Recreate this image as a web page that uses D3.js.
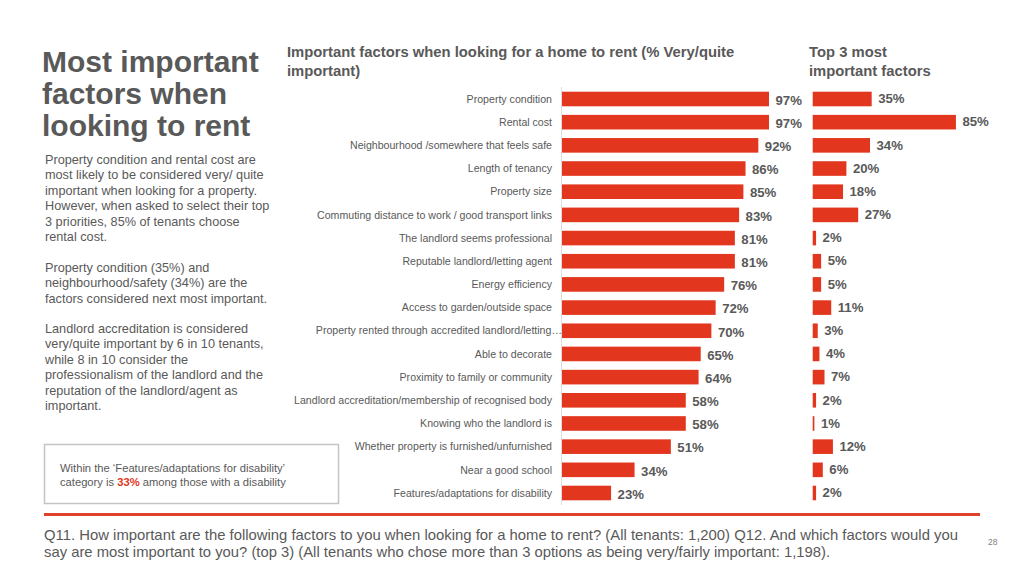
<!DOCTYPE html>
<html>
<head>
<meta charset="utf-8">
<script src="https://cdn.jsdelivr.net/npm/d3@7"></script>
<style>
  html, body { margin: 0; padding: 0; background: #fff; }
  svg { display: block; font-family: "Liberation Sans", Arial, sans-serif; }
</style>
</head>
<body>
<svg id="chart" width="1024" height="576"></svg>
<script>
// ---------- DATA ----------
const categories = [
  "Property condition",
  "Rental cost",
  "Neighbourhood /somewhere that feels safe",
  "Length of tenancy",
  "Property size",
  "Commuting distance to work / good transport links",
  "The landlord seems professional",
  "Reputable landlord/letting agent",
  "Energy efficiency",
  "Access to garden/outside space",
  "Property rented through accredited landlord/letting…",
  "Able to decorate",
  "Proximity to family or community",
  "Landlord accreditation/membership of recognised body",
  "Knowing who the landlord is",
  "Whether property is furnished/unfurnished",
  "Near a good school",
  "Features/adaptations for disability"
];
const importantValues = [97, 97, 92, 86, 85, 83, 81, 81, 76, 72, 70, 65, 64, 58, 58, 51, 34, 23];
const top3Values      = [35, 85, 34, 20, 18, 27, 2, 5, 5, 11, 3, 4, 7, 2, 1, 12, 6, 2];

const mainTitle = ["Most important", "factors when", "looking to rent"];
const paragraphs = [
  ["Property condition and rental cost are",
   "most likely to be considered very/ quite",
   "important when looking for a property.",
   "However, when asked to select their top",
   "3 priorities, 85% of tenants choose",
   "rental cost."],
  ["Property condition (35%) and",
   "neighbourhood/safety (34%) are the",
   "factors considered next most important."],
  ["Landlord accreditation is considered",
   "very/quite important by 6 in 10 tenants,",
   "while 8 in 10 consider the",
   "professionalism of the landlord and the",
   "reputation of the landlord/agent as",
   "important."]
];
const chartTitle1 = ["Important factors when looking for a home to rent (% Very/quite", "important)"];
const chartTitle2 = ["Top 3 most", "important factors"];
const boxNote = ["Within the ‘Features/adaptations for disability’", "category is ", "33%", " among those with a disability"];
const footnote = [
  "Q11. How important are the following factors to you when looking for a home to rent? (All tenants: 1,200) Q12. And which factors would you",
  "say are most important to you? (top 3) (All tenants who chose more than 3 options as being very/fairly important: 1,198)."
];
const pageNumber = "28";

// ---------- STYLE ----------
const RED = "#e2361e";
const GREY = "#595959";
const svg = d3.select("#chart");

// ---------- LEFT TEXT ----------
const tt = svg.append("text").attr("fill", GREY).attr("font-weight", "bold")
  .attr("font-size", 30);
mainTitle.forEach((l, i) => tt.append("tspan").attr("x", 42).attr("y", 72 + i * 32).text(l));

const paraStarts = [164, 272, 333];
paragraphs.forEach((p, pi) => {
  const t = svg.append("text").attr("fill", GREY).attr("font-size", 12.7);
  p.forEach((l, i) => t.append("tspan").attr("x", 45).attr("y", paraStarts[pi] + i * 15.4).text(l));
});

// box
svg.append("rect").attr("x", 44.5).attr("y", 444.5).attr("width", 294).attr("height", 59)
  .attr("fill", "none").attr("stroke", "#c4c4c4").attr("stroke-width", 1.5);
const bt = svg.append("text").attr("fill", GREY).attr("font-size", 11.2);
bt.append("tspan").attr("x", 60).attr("y", 472).text(boxNote[0]);
const bt2 = svg.append("text").attr("fill", GREY).attr("font-size", 11.2).attr("x", 60).attr("y", 485.5);
bt2.append("tspan").text(boxNote[1]);
bt2.append("tspan").attr("fill", RED).attr("font-weight", "bold").text(boxNote[2]);
bt2.append("tspan").text(boxNote[3]);

// ---------- CHART TITLES ----------
const ct1 = svg.append("text").attr("fill", GREY).attr("font-weight", "bold").attr("font-size", 14.8);
chartTitle1.forEach((l, i) => ct1.append("tspan").attr("x", 287).attr("y", 57 + i * 18.5).text(l));
const ct2 = svg.append("text").attr("fill", GREY).attr("font-weight", "bold").attr("font-size", 14.8);
chartTitle2.forEach((l, i) => ct2.append("tspan").attr("x", 809).attr("y", 57 + i * 18.5).text(l));

// ---------- SCALES ----------
const y = d3.scalePoint().domain(categories).range([99, 493]);
const step = y.step();
const barH = step * 0.63;
const xL = d3.scaleLinear().domain([0, 100]).range([562, 562 + 213.4]);
const xR = d3.scaleLinear().domain([0, 100]).range([812.7, 812.7 + 168.5]);

// axis line (left chart)
svg.append("line").attr("x1", 561.5).attr("x2", 561.5).attr("y1", 87).attr("y2", 505)
  .attr("stroke", "#dcdcdc").attr("stroke-width", 1);

// category labels
svg.append("g").selectAll("text").data(categories).join("text")
  .attr("x", d => d.endsWith("…") ? 562 : 552)
  .attr("y", d => y(d))
  .attr("dy", "0.35em")
  .attr("text-anchor", "end")
  .attr("font-size", 10.6)
  .attr("fill", GREY)
  .text(d => d);

// left bars
const left = categories.map((c, i) => ({ c, v: importantValues[i] }));
svg.append("g").selectAll("rect").data(left).join("rect")
  .attr("x", xL(0)).attr("y", d => y(d.c) - barH / 2)
  .attr("width", d => xL(d.v) - xL(0)).attr("height", barH)
  .attr("fill", RED);
svg.append("g").selectAll("text").data(left).join("text")
  .attr("x", d => xL(d.v) + 6.5).attr("y", d => y(d.c) + 1)
  .attr("dy", "0.36em").attr("font-size", 13.2).attr("font-weight", "bold")
  .attr("fill", GREY).text(d => d.v + "%");

// right bars
const right = categories.map((c, i) => ({ c, v: top3Values[i] }));
svg.append("g").selectAll("rect").data(right).join("rect")
  .attr("x", xR(0)).attr("y", d => y(d.c) - barH / 2)
  .attr("width", d => xR(d.v) - xR(0)).attr("height", barH)
  .attr("fill", RED);
svg.append("g").selectAll("text").data(right).join("text")
  .attr("x", d => xR(d.v) + 6.5).attr("y", d => y(d.c) - 0.5)
  .attr("dy", "0.36em").attr("font-size", 13.2).attr("font-weight", "bold")
  .attr("fill", GREY).text(d => d.v + "%");

// ---------- FOOTER ----------
svg.append("rect").attr("x", 44).attr("y", 513).attr("width", 936).attr("height", 3).attr("fill", "#e0412a");
const fw = [914, 786];
footnote.forEach((l, i) => {
  svg.append("text").attr("x", 44).attr("y", 540 + i * 16.5)
    .attr("font-size", 15).attr("fill", GREY)
    .attr("textLength", fw[i]).attr("lengthAdjust", "spacingAndGlyphs")
    .text(l);
});
svg.append("text").attr("x", 988).attr("y", 545).attr("font-size", 8.5).attr("fill", "#7f7f7f").text(pageNumber);
</script>
</body>
</html>
